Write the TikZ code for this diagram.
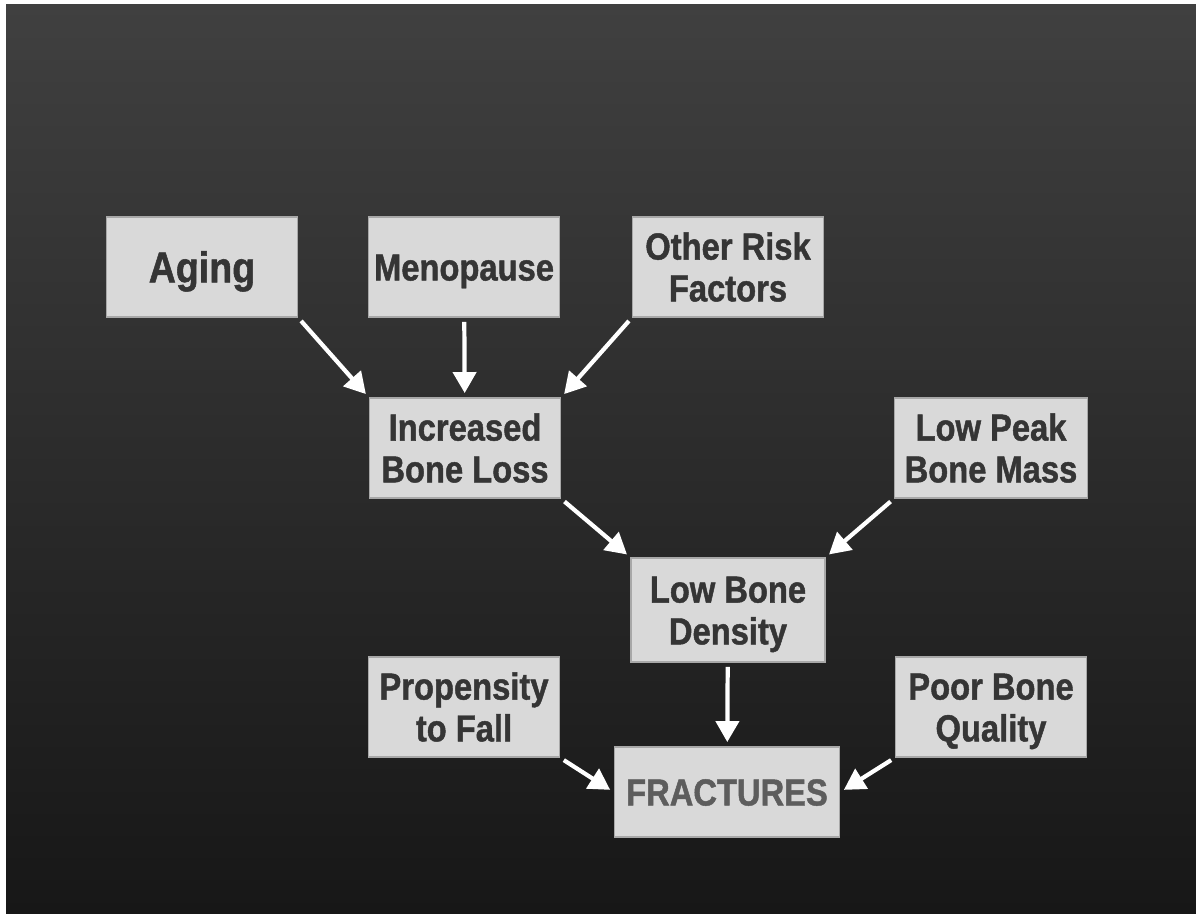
\documentclass[tikz,border=0pt]{standalone}
\usepackage{fontspec}
\setmainfont{Liberation Sans}[FakeStretch=0.87, BoldFeatures={FakeBold=1.2}]
\usepackage{tikz}
\usetikzlibrary{arrows.meta}
\definecolor{boxfill}{HTML}{D9D9D9}
\definecolor{boxline}{HTML}{A8A8A8}
\definecolor{boxtext}{HTML}{353535}
\definecolor{bgtop}{HTML}{404040}
\definecolor{bgbottom}{HTML}{171717}
\tikzset{
    causebox/.style={
        draw=boxline, line width=1.1pt, fill=boxfill, text=boxtext,
        minimum width=3.82cm, minimum height=2cm, inner sep=0pt,
        align=center, font=\fontsize{21.4}{23.8}\selectfont\bfseries,
        text height=15.3pt, text depth=0pt
    },
    twoline/.style={text height=39.1pt},
    bigarrow/.style={
        draw=white, line width=2.4pt,
        -{Triangle[length=0.42cm, width=0.46cm]},
        shorten <=0.08cm, shorten >=0.08cm
    }
}

\begin{document}
\begin{tikzpicture}[x=0.02cm, y=-0.02cm]
	\useasboundingbox (0,0) rectangle (1196,917);
	\fill[white] (0,0) rectangle (1196,917);
	\shade[top color=bgtop, bottom color=bgbottom] (6,4) rectangle (1196,913);
	
	\node[causebox, font=\fontsize{24.6}{28}\selectfont\bfseries, text height=17.6pt] (aging) at (202,267) {Aging};
	\node[causebox] (meno) at (464,267) {Menopause};
	\node[causebox, twoline] (other) at (728,267) {Other Risk\\Factors};
	\node[causebox, twoline] (loss) at (465,448) {Increased\\Bone Loss};
	\node[causebox, twoline, minimum width=3.86cm] (peak) at (991,448) {Low Peak\\Bone Mass};
	\node[causebox, twoline, minimum width=3.88cm, minimum height=2.08cm] (density) at (728,610) {Low Bone\\Density};
	\node[causebox, twoline] (fall) at (464,707) {Propensity\\to Fall};
	\node[causebox, twoline] (quality) at (991,707) {Poor Bone\\Quality};
	\node[causebox, text=boxtext!80, minimum width=4.5cm, minimum height=1.8cm] (fract) at (727,792) {FRACTURES};
	
	\foreach \from/\to in {aging.south east/loss.north west, meno/loss, other.south west/loss.north east,
			loss.south east/density.north west, peak.south west/density.north east, density/fract,
			fall.south east/fract.west, quality.south west/fract.east} {
			\draw[bigarrow] (\from) -- (\to);
	}
	
\end{tikzpicture}
\end{document}
